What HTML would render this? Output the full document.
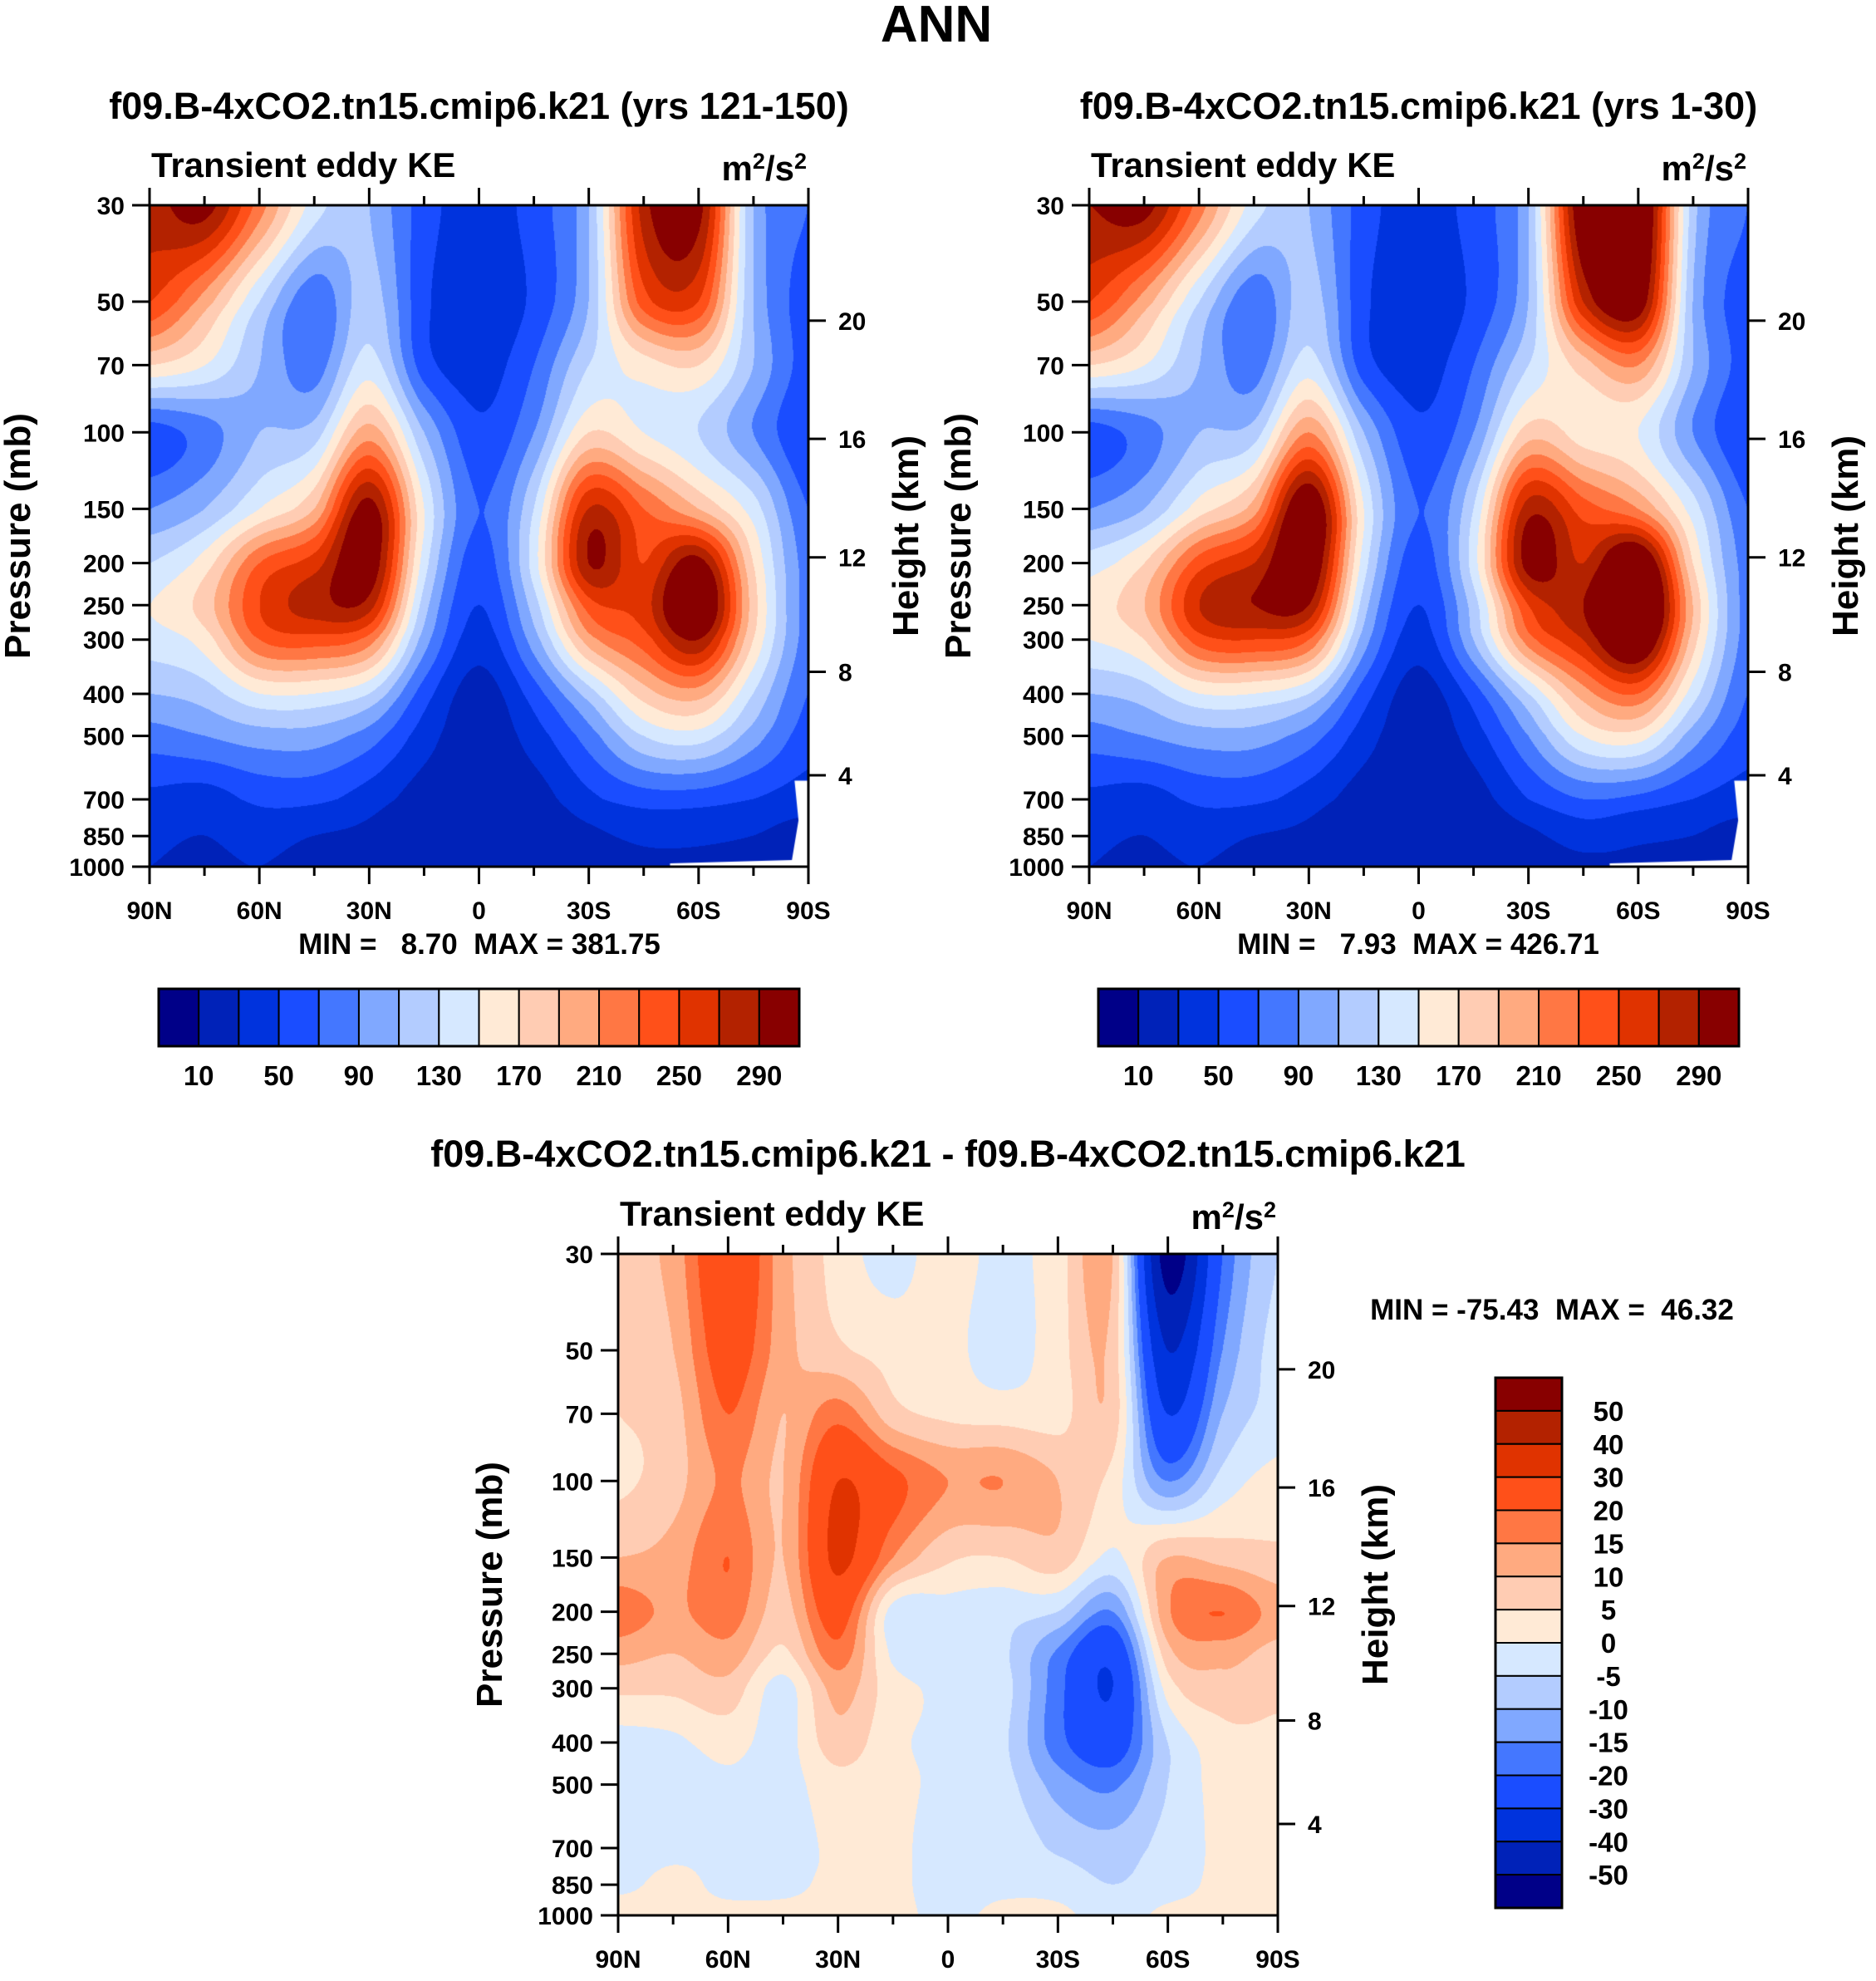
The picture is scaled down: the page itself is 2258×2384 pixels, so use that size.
<!DOCTYPE html>
<html><head><meta charset="utf-8"><style>
html,body{margin:0;padding:0;background:#fff;}
#root{position:relative;width:2258px;height:2384px;overflow:hidden;font-family:"Liberation Sans",sans-serif;}
canvas{position:absolute;}
svg{position:absolute;left:0;top:0;}
</style></head><body>
<div id="root">
<canvas id="c1"></canvas>
<canvas id="c2"></canvas>
<canvas id="c3"></canvas>
<svg id="ov" width="2258" height="2384"></svg>
</div>
<script>
const lats=[90,75,60,45,30,15,0,-15,-30,-45,-60,-75,-90];
const levels=[30,50,70,100,150,200,250,300,400,500,700,850,1000];
const pTicks=[30,50,70,100,150,200,250,300,400,500,700,850,1000];
const heightTicks=[20,16,12,8,4];
const heightPressures=[55.3,103.5,194,356,616];
const latTicks=[90,60,30,0,-30,-60,-90];
const latLabels=["90N","60N","30N","0","30S","60S","90S"];
const absBounds=[10,30,50,70,90,110,130,150,170,190,210,230,250,270,290];
const absLabels=["10","50","90","130","170","210","250","290"];
const diffBounds=[-50,-40,-30,-20,-15,-10,-5,0,5,10,15,20,30,40,50];
const colors=["#000088","#0022b8","#0033dd","#1a4dff","#4477ff","#80a8ff","#b3ccff","#d6e8ff","#ffead6","#ffccb3","#ffaa80","#ff7744","#ff5019","#e03300","#b32200","#880000"];
const field1=[
[280,300,220,140,110,60,40,60,110,280,300,110,70],
[250,200,130,75,120,55,35,55,110,240,250,110,60],
[170,150,110,80,140,60,40,70,130,160,170,110,60],
[60,80,110,120,200,110,55,90,170,150,130,90,50],
[90,110,150,190,300,150,70,130,270,230,190,140,70],
[130,160,230,260,310,140,60,140,290,250,300,170,80],
[150,180,250,280,280,120,50,120,240,260,330,180,80],
[140,160,230,240,220,100,40,100,200,240,290,170,80],
[110,120,150,150,130,60,20,60,120,180,200,130,70],
[80,90,100,100,80,40,15,40,80,130,140,100,60],
[45,40,55,55,40,20,12,20,45,60,60,50,40],
[35,30,40,30,25,14,12,15,25,35,35,30,20],
[30,25,30,20,20,14,12,14,20,25,25,20,15]];
const field2=[
[290,300,220,140,110,60,40,60,110,320,340,120,70],
[250,200,130,75,120,55,35,55,110,270,310,110,60],
[170,150,110,80,140,60,40,70,130,180,210,110,60],
[60,80,110,120,210,110,55,90,180,160,150,90,50],
[90,110,160,200,320,150,70,130,280,240,210,140,70],
[140,170,240,270,320,140,60,140,300,270,330,170,80],
[160,190,270,290,290,120,50,120,250,290,360,190,80],
[150,170,240,250,230,100,40,110,220,270,330,180,80],
[110,120,150,150,130,60,20,60,130,200,230,140,70],
[80,90,100,100,80,40,15,40,90,150,160,100,60],
[45,40,55,55,40,20,12,20,50,70,65,50,40],
[35,30,40,30,25,14,12,15,25,40,35,30,20],
[30,25,30,20,20,14,12,14,20,25,25,20,15]];
const field3=[
[8,12,28,12,3,-2,3,-2,3,10,-55,-20,-5],
[6,10,24,12,6,3,2,-3,3,8,-40,-15,-3],
[5,8,20,10,18,7,4,3,3,8,-30,-10,-3],
[4,8,16,10,30,22,15,15,10,3,-15,-3,2],
[10,12,20,10,32,15,6,5,8,-1,10,8,6],
[18,14,18,8,24,-2,-2,-3,-5,-15,14,20,13],
[12,10,13,4,18,-1,-2,-4,-16,-27,8,12,8],
[6,6,8,-2,12,2,-1,-3,-18,-30,2,8,6],
[-2,-1,2,-2,8,1,-1,-4,-18,-25,-5,3,4],
[-2,-2,-1,-2,3,1,-1,-3,-12,-16,-5,2,3],
[-2,-1,-1,-2,1,1,-2,-1,-6,-8,-3,1,2],
[-1,1,-1,-1,1,1,-2,-1,-2,-5,-2,1,1],
[2,1,1,1,1,1,-1,1,1,-2,1,1,1]];

const NS="http://www.w3.org/2000/svg";
const ov=document.getElementById('ov');
function el(tag,attrs,name,text){const e=document.createElementNS(NS,tag);for(const k in attrs)e.setAttribute(k,attrs[k]);


if(text!==undefined)e.textContent=text;ov.appendChild(e);return e;}
function txt(x,y,s,size,anchor,name,extra){const a=Object.assign({x:x,y:y,'font-size':size,'font-weight':'bold','text-anchor':anchor||'middle','font-family':'"Liberation Sans",sans-serif',fill:'#000'},extra||{});return el('text',a,name,s);}
const lpT=Math.log(30),lpB=Math.log(1000);
function yOf(P,p){return P.top+P.h*(Math.log(p)-lpT)/(lpB-lpT);}
function xOf(P,lat){return P.left+P.w*(90-lat)/180;}
function binOf(v,b){let i=0;while(i<b.length&&v>=b[i])i++;return i;}
function cr(p0,p1,p2,p3,t){return 0.5*((2*p1)+(-p0+p2)*t+(2*p0-5*p1+4*p2-p3)*t*t+(-p0+3*p1-3*p2+p3)*t*t*t);}
function sample(F,lat,p){
 let fx=(90-lat)/15;let i=Math.min(Math.floor(fx),11);let tx=fx-i;
 const lp=Math.log(p);let j=0;while(j<11&&Math.log(levels[j+1])<lp)j++;
 let ty=(lp-Math.log(levels[j]))/(Math.log(levels[j+1])-Math.log(levels[j]));ty=Math.max(0,Math.min(1,ty));
 const rows=[];
 for(let r=-1;r<=2;r++){const jj=Math.max(0,Math.min(12,j+r));const R=F[jj];
  const g=k=>R[Math.max(0,Math.min(12,k))];
  rows.push(cr(g(i-1),g(i),g(i+1),g(i+2),tx));}
 return cr(rows[0],rows[1],rows[2],rows[3],ty);}
function drawField(id,P,F,bounds,mask){
 const c=document.getElementById(id);c.width=P.w;c.height=P.h;c.style.left=P.left+'px';c.style.top=P.top+'px';
 const ctx=c.getContext('2d');const img=ctx.createImageData(P.w,P.h);
 const rgb=colors.map(h=>[parseInt(h.substr(1,2),16),parseInt(h.substr(3,2),16),parseInt(h.substr(5,2),16)]);
 for(let y=0;y<P.h;y++){const p=Math.exp(lpT+(lpB-lpT)*y/(P.h-1));
  for(let x=0;x<P.w;x++){const lat=90-180*x/(P.w-1);const v=sample(F,lat,p);const col=rgb[binOf(v,bounds)];
   const k=(y*P.w+x)*4;img.data[k]=col[0];img.data[k+1]=col[1];img.data[k+2]=col[2];img.data[k+3]=255;}}
 ctx.putImageData(img,0,0);
 if(mask){ctx.fillStyle='#fff';ctx.beginPath();
  ctx.moveTo(P.w*0.979,P.h*0.87);ctx.lineTo(P.w,P.h*0.87);ctx.lineTo(P.w,P.h);ctx.lineTo(P.w*0.79,P.h);ctx.lineTo(P.w*0.79,P.h*0.995);ctx.lineTo(P.w*0.975,P.h*0.99);ctx.lineTo(P.w*0.985,P.h*0.93);ctx.closePath();ctx.fill();}
}
function axes(P,opt,pfx){
 el('rect',{x:P.left,y:P.top,width:P.w,height:P.h,fill:'none',stroke:'#000','stroke-width':3},pfx+'plot-frame');
 pTicks.forEach(p=>{const y=yOf(P,p);el('line',{x1:P.left-21,y1:y,x2:P.left,y2:y,stroke:'#000','stroke-width':3},pfx+'pressure-tick');
  txt(P.left-30,y+11,String(p),30,'end',pfx+'pressure-tick-label');});
 heightTicks.forEach((h,i)=>{const y=yOf(P,heightPressures[i]);el('line',{x1:P.left+P.w,y1:y,x2:P.left+P.w+21,y2:y,stroke:'#000','stroke-width':3},pfx+'height-tick');
  txt(P.left+P.w+36,y+11,String(h),30,'start',pfx+'height-tick-label');});
 latTicks.forEach((l,i)=>{const x=xOf(P,l);
  el('line',{x1:x,y1:P.top+P.h,x2:x,y2:P.top+P.h+21,stroke:'#000','stroke-width':3},pfx+'lat-tick');
  el('line',{x1:x,y1:P.top-21,x2:x,y2:P.top,stroke:'#000','stroke-width':3},pfx+'lat-tick-top');
  txt(x,P.top+P.h+63,latLabels[i],30,'middle',pfx+'lat-tick-label');});
 for(let l=75;l>-90;l-=30){const x=xOf(P,l);
  el('line',{x1:x,y1:P.top+P.h,x2:x,y2:P.top+P.h+11,stroke:'#000','stroke-width':3},pfx+'lat-minor-tick');
  el('line',{x1:x,y1:P.top-11,x2:x,y2:P.top,stroke:'#000','stroke-width':3},pfx+'lat-minor-tick-top');}
 txt(P.left+P.w/2,opt.titleY,opt.title,45,'middle',pfx+'panel-title');
 txt(P.left+2,P.top-34,'Transient eddy KE',42,'start',pfx+'variable-label');
 const u=txt(P.left+P.w-2,P.top-30,'',42,'end',pfx+'units-label');
 u.innerHTML='m<tspan dy="-14" font-size="27">2</tspan><tspan dy="14">/s</tspan><tspan dy="-14" font-size="27">2</tspan>';
 const py=P.top+P.h/2;
 txt(0,0,'Pressure (mb)',44,'middle',pfx+'y-axis-title',{transform:`translate(${opt.ptx},${py}) rotate(-90)`});
 txt(0,0,'Height (km)',44,'middle',pfx+'right-axis-title',{transform:`translate(${opt.htx},${py}) rotate(-90)`});
}
function hbar(x,y,w,h,pfx){const bw=w/16;
 colors.forEach((c,i)=>el('rect',{x:x+i*bw,y:y,width:bw,height:h,fill:c,stroke:'#000','stroke-width':2},pfx+'colorbar-box'));
 el('rect',{x:x,y:y,width:w,height:h,fill:'none',stroke:'#000','stroke-width':3},pfx+'colorbar-frame');
 absLabels.forEach((s,i)=>txt(x+bw*(1+2*i),y+h+47,s,33,'middle',pfx+'colorbar-label'));}
const P1={left:180,top:247,w:793,h:796},P2={left:1311,top:247,w:793,h:796},P3={left:744,top:1509,w:794,h:796};
drawField('c1',P1,field1,absBounds,true);
drawField('c2',P2,field2,absBounds,true);
drawField('c3',P3,field3,diffBounds,false);
txt(1127,50,'ANN',62,'middle','figure-title');
axes(P1,{title:'f09.B-4xCO2.tn15.cmip6.k21 (yrs 121-150)',titleY:143,ptx:36,htx:1105},'p1-');
axes(P2,{title:'f09.B-4xCO2.tn15.cmip6.k21 (yrs 1-30)',titleY:143,ptx:1168,htx:2236},'p2-');
axes(P3,{title:'f09.B-4xCO2.tn15.cmip6.k21 - f09.B-4xCO2.tn15.cmip6.k21',titleY:1404,ptx:604,htx:1670},'p3-');
txt(577,1148,'MIN =   8.70  MAX = 381.75',35,'middle','p1-min-max',{style:'white-space:pre'});
txt(1707,1148,'MIN =   7.93  MAX = 426.71',35,'middle','p2-min-max',{style:'white-space:pre'});
txt(1868,1588,'MIN = -75.43  MAX =  46.32',35,'middle','p3-min-max',{style:'white-space:pre'});
hbar(191,1190,771,69,'p1-');
hbar(1322,1190,771,69,'p2-');
(function(){const x=1800,y=1658,w=80,h=638,bh=h/16;
 for(let i=0;i<16;i++)el('rect',{x:x,y:y+i*bh,width:w,height:bh,fill:colors[15-i],stroke:'#000','stroke-width':2},'p3-colorbar-box');
 el('rect',{x:x,y:y,width:w,height:h,fill:'none',stroke:'#000','stroke-width':3},'p3-colorbar-frame');
 for(let i=0;i<15;i++)txt(x+w+56,y+bh*(i+1)+12,String(diffBounds[14-i]),33,'middle','p3-colorbar-label');})();
</script>
</body></html>
